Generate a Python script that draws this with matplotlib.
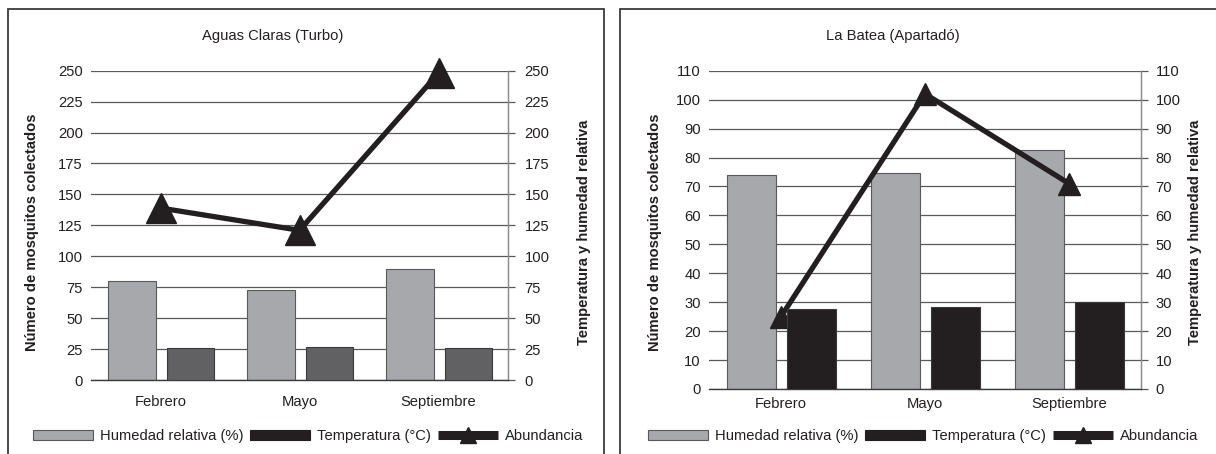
import matplotlib
matplotlib.use("Agg")
import matplotlib.pyplot as plt
from matplotlib.patches import Rectangle, Patch
from matplotlib.lines import Line2D
import numpy as np

plt.rcParams['font.family'] = ['Liberation Sans', 'DejaVu Sans']

months = ["Febrero", "Mayo", "Septiembre"]

# Aguas Claras (Turbo)
ac_humedad = [80, 73, 90]
ac_temp = [26, 26.5, 26.2]
ac_abund = [139, 121, 248]
ac_ticks = [0, 25, 50, 75, 100, 125, 150, 175, 200, 225, 250]

# La Batea (Apartadó)
lb_humedad = [74, 74.7, 82.5]
lb_temp = [27.8, 28.3, 30]
lb_abund = [25, 102, 71]
lb_ticks = [0, 10, 20, 30, 40, 50, 60, 70, 80, 90, 100, 110]

labels = ["Humedad relativa (%)", "Temperatura (°C)", "Abundancia"]

W, H = 1216, 454
fig = plt.figure(figsize=(W / 100, H / 100), dpi=100)

GRAY = '#a7a8ab'
LINE = '#231f20'
TXT = '#231f20'
FS = 10.6


def px_rect(l, r, t, b):
    return [l / W, 1 - b / H, (r - l) / W, (b - t) / H]


def panel(rect, hum, temp, abund, ticks, dark, msize, title, title_xy,
          ylab_l, ylab_r, xpad, legend_x, frame, rpad):
    ax = fig.add_axes(rect)
    x = np.arange(len(months))
    ax.bar(x - 0.205, hum, width=0.34, color=GRAY, edgecolor='#58595b',
           linewidth=0.8, zorder=2)
    ax.bar(x + 0.215, temp, width=0.34, color=dark, edgecolor='#3a3a3c',
           linewidth=0.8, zorder=4)
    ax.plot(x, abund, color=LINE, lw=3.8, marker='^', markersize=msize,
            zorder=3, clip_on=False, solid_joinstyle='miter')
    ax.set_xlim(-0.5, 2.5)
    ax.set_ylim(0, ticks[-1])
    ax.set_yticks(ticks)
    ax.set_xticks(x)
    ax.set_xticklabels(months, fontsize=FS, color=TXT)
    ax.tick_params(axis='x', length=0, pad=xpad)
    ax.tick_params(axis='y', left=False, right=False, labelleft=True,
                   labelright=False, labelsize=FS, labelcolor=TXT,
                   length=0, pad=5.8)
    ax.grid(axis='y', color='#58595b', lw=0.9, zorder=0)
    ax.set_axisbelow(True)
    for s in ['top', 'left']:
        ax.spines[s].set_visible(False)
    ax.spines['right'].set_color('#8a8b8d')
    ax.spines['right'].set_linewidth(0.9)
    ax.spines['bottom'].set_color('#3a3a3c')
    ax.spines['bottom'].set_linewidth(1.0)
    ax.set_facecolor('none')

    ax2 = ax.twinx()
    ax2.set_ylim(0, ticks[-1])
    ax2.set_yticks(ticks)
    ax2.tick_params(axis='y', right=True, labelright=True, labelsize=FS,
                    labelcolor=TXT, length=5, width=0.9, color='#58595b',
                    pad=rpad)
    for s in ['top', 'left', 'bottom']:
        ax2.spines[s].set_visible(False)
    ax2.spines['right'].set_color('#8a8b8d')
    ax2.spines['right'].set_linewidth(0.9)
    ax2.set_zorder(ax.get_zorder() - 1)

    fig.text(title_xy[0] / W, 1 - title_xy[1] / H, title, ha='center',
             va='center', fontsize=FS, color=TXT)
    fig.text(ylab_l[0] / W, 1 - ylab_l[1] / H, "Número de mosquitos colectados",
             rotation=90, ha='center', va='center', fontsize=FS,
             fontweight='bold', color=TXT)
    fig.text(ylab_r[0] / W, 1 - ylab_r[1] / H, "Temperatura y humedad relativa",
             rotation=90, ha='center', va='center', fontsize=FS,
             fontweight='bold', color=TXT)

    handles = [
        Patch(facecolor=GRAY, edgecolor='#58595b', linewidth=0.8),
        Patch(facecolor=LINE, edgecolor=LINE, linewidth=0.8),
        Line2D([], [], color=LINE, lw=6.5, marker='^', markersize=12,
               solid_capstyle='butt'),
    ]
    ax.legend(handles, labels, loc='center left',
              bbox_to_anchor=(legend_x / W, 1 - 436 / H),
              bbox_transform=fig.transFigure, ncol=3, frameon=False,
              handlelength=4.1, handletextpad=0.45, columnspacing=0.45,
              borderpad=0, borderaxespad=0, fontsize=FS, numpoints=1,
              labelcolor=TXT)

    fig.patches.append(Rectangle((frame[0] / W, -0.1),
                                 (frame[1] - frame[0]) / W,
                                 1 - frame[2] / H + 0.1,
                                 transform=fig.transFigure, fill=False,
                                 edgecolor='#3a3a3c', lw=1.3))
    return ax


panel(px_rect(91, 508, 70.7, 380), ac_humedad, ac_temp, ac_abund, ac_ticks,
      '#616163', 21, "Aguas Claras (Turbo)", (273, 36),
      (32, 232), (584, 232), 11, 33, (8, 604, 9), 7)

panel(px_rect(709, 1141, 70.7, 389), lb_humedad, lb_temp, lb_abund, lb_ticks,
      '#231f20', 16, "La Batea (Apartadó)", (893, 36),
      (655, 232), (1195, 232), 6, 648, (620, 1240, 9), 5.5)

fig.savefig("out.png", dpi=100)
